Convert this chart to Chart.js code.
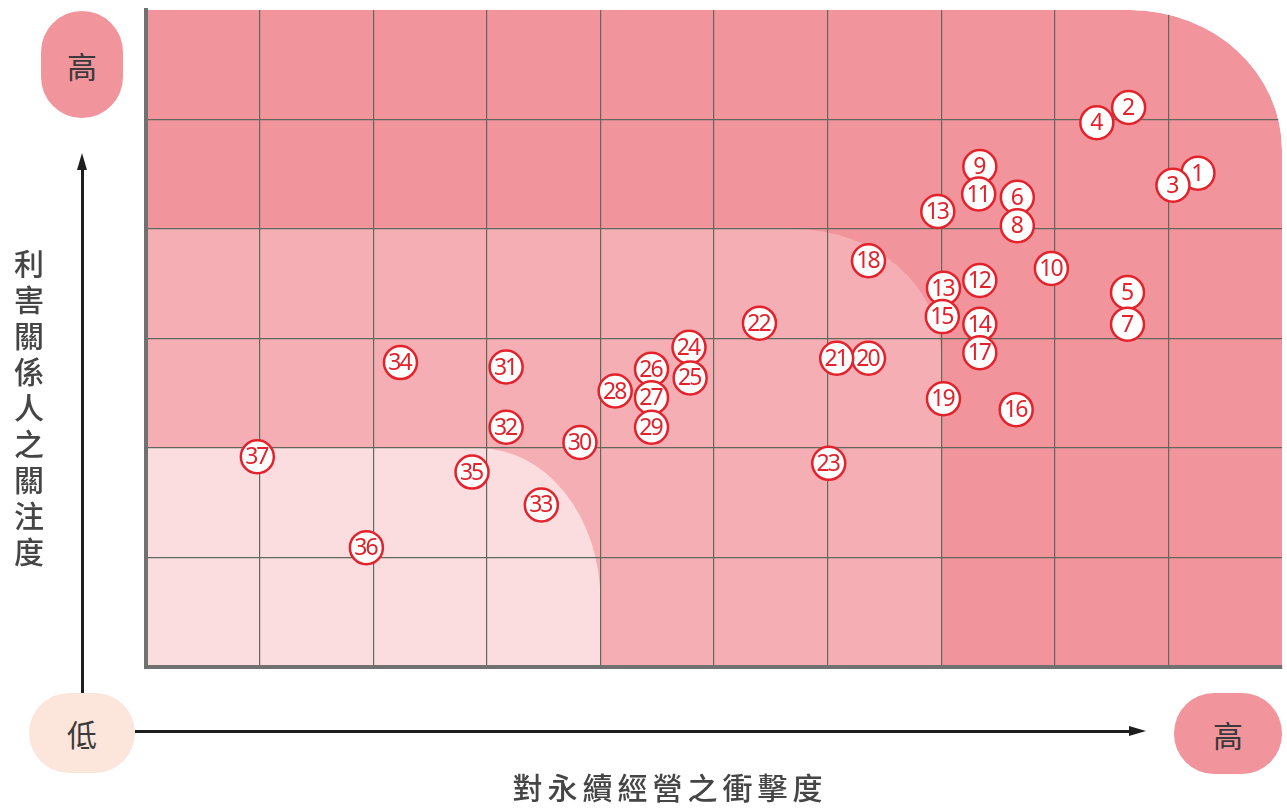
<!DOCTYPE html>
<html>
<head>
<meta charset="utf-8">
<script src="https://cdn.jsdelivr.net/npm/chart.js@4/dist/chart.umd.min.js"></script>
<style>
  html, body { margin: 0; padding: 0; background: #fff; }
  #wrap { position: relative; width: 1287px; height: 810px; overflow: hidden;
    font-family: "Noto Sans CJK TC", "Noto Sans", sans-serif; color: #404040; }
  #chart { position: absolute; left: 0; top: 0; }
  .pill { position: absolute; display: flex; align-items: center; justify-content: center;
    font-size: 30px; color: #3a3a3a; }
  .ytitle { position: absolute; left: 12px; top: 244px; width: 34px; font-size: 30px; font-weight: 500;
    line-height: 36px; text-align: center; color: #454545; }
  .xtitle { position: absolute; left: 470px; top: 764px; width: 400px; text-align: center; font-size: 30px;
    font-weight: 500; letter-spacing: 5px; color: #454545; }
  .line { position: absolute; background: #1e1e1e; }
  .tri { position: absolute; width: 0; height: 0; }
</style>
</head>
<body>
<div id="wrap">
  <canvas id="chart" width="1287" height="810"></canvas>

  <div class="pill" style="left:41px;top:11px;width:82px;height:107px;border-radius:41px;background:#f2949b;">高</div>
  <div class="line" style="left:81px;top:168px;width:3px;height:527px;"></div>
  <div class="tri" style="left:77px;top:153px;border-left:5px solid transparent;border-right:5px solid transparent;border-bottom:17px solid #1e1e1e;"></div>
  <div class="ytitle">利<br>害<br>關<br>係<br>人<br>之<br>關<br>注<br>度</div>

  <div class="pill" style="left:29px;top:693px;width:106px;height:80px;border-radius:40px;background:#fce5db;">低</div>
  <div class="line" style="left:135px;top:730px;width:996px;height:3px;"></div>
  <div class="tri" style="left:1129px;top:726px;border-top:5px solid transparent;border-bottom:5px solid transparent;border-left:17px solid #1e1e1e;"></div>
  <div class="pill" style="left:1174px;top:693px;width:108px;height:81px;border-radius:40px;background:#f2949b;">高</div>

  <div class="xtitle">對永續經營之衝擊度</div>
</div>

<script>
// 議題編號與座標（x：對永續經營之衝擊度，y：利害關係人之關注度）
const issueNo = ["1", "2", "3", "4", "5", "6", "7", "8", "9", "10",
  "11", "12", "13", "13", "14", "15", "16", "17", "18", "19",
  "20", "21", "22", "23", "24", "25", "26", "27", "28", "29",
  "30", "31", "32", "33", "34", "35", "36", "37"];
const impact = [9.26, 8.65, 9.04, 8.37, 8.64, 7.67, 8.64, 7.67, 7.34, 7.97,
  7.33, 7.34, 6.97, 7.02, 7.34, 7.01, 7.66, 7.34, 6.36, 7.02,
  6.36, 6.08, 5.40, 6.01, 4.78, 4.79, 4.45, 4.45, 4.13, 4.45,
  3.82, 3.17, 3.17, 3.48, 2.24, 2.87, 1.94, 0.98];
const concern = [4.51, 5.11, 4.40, 4.97, 3.42, 4.29, 3.13, 4.03, 4.57, 3.64,
  4.32, 3.53, 4.16, 3.46, 3.13, 3.20, 2.35, 2.87, 3.71, 2.45,
  2.82, 2.82, 3.14, 1.86, 2.92, 2.64, 2.72, 2.46, 2.52, 2.19,
  2.05, 2.74, 2.19, 1.48, 2.78, 1.78, 1.09, 1.92];

const xMax = 10;
const yMax = 6;

// 背景區塊（資料座標範圍 + 右上圓角）
const zones = [
  { x: 10, y: 6, rx: 152, ry: 140, color: "#f2949b" },
  { x: 7, y: 4, rx: 147, ry: 128, color: "#f5aeb3" },
  { x: 4, y: 2, rx: 122, ry: 152, color: "#fbdde0" },
];

function cornerPath(c, left, top, right, bottom, rx, ry) {
  c.beginPath();
  c.moveTo(left, bottom);
  c.lineTo(left, top);
  c.lineTo(right - rx, top);
  c.ellipse(right - rx, top + ry, rx, ry, 0, -Math.PI / 2, 0);
  c.lineTo(right, bottom);
  c.closePath();
}

const zonePlugin = {
  id: "zones",
  beforeDraw(chart) {
    const c = chart.ctx;
    const xs = chart.scales.x, ys = chart.scales.y;
    c.save();
    zones.forEach(z => {
      cornerPath(c, xs.getPixelForValue(0), ys.getPixelForValue(z.y),
        xs.getPixelForValue(z.x), ys.getPixelForValue(0), z.rx, z.ry);
      c.fillStyle = z.color;
      c.fill();
    });
    c.restore();
  },
  beforeDatasetsDraw(chart) {
    // 遮掉外框右上圓角外的格線
    const c = chart.ctx;
    const xs = chart.scales.x, ys = chart.scales.y;
    const z = zones[0];
    const right = xs.getPixelForValue(xMax), top = ys.getPixelForValue(yMax);
    c.save();
    c.beginPath();
    c.moveTo(right + 6, top - 6);
    c.lineTo(right - z.rx, top - 6);
    c.lineTo(right - z.rx, top);
    c.ellipse(right - z.rx, top + z.ry, z.rx, z.ry, 0, -Math.PI / 2, 0);
    c.lineTo(right + 6, top + z.ry);
    c.closePath();
    c.fillStyle = "#fff";
    c.fill();
    c.restore();
  },
  afterDatasetsDraw(chart) {
    const c = chart.ctx;
    const meta = chart.getDatasetMeta(0);
    c.save();
    c.fillStyle = "#e3222b";
    c.textAlign = "center";
    c.textBaseline = "middle";
    meta.data.forEach((pt, i) => {
      const t = issueNo[i];
      c.font = "23px 'Noto Sans', sans-serif";
      c.letterSpacing = t.length > 1 ? "-2px" : "0px";
      c.fillText(t, pt.x + (t.length > 1 ? -1 : 0), pt.y + 1);
    });
    c.restore();
  },
};

const gridColor = "#62695c";

// 讓座標軸不佔空間，繪圖區完全由 padding 決定
function noSpace(scale) {
  if (scale.isHorizontal()) scale.height = 0;
  else scale.width = 0;
}

new Chart(document.getElementById("chart"), {
  type: "scatter",
  data: {
    datasets: [{
      data: impact.map((v, i) => ({ x: v, y: concern[i] })),
      pointRadius: 16.5,
      pointHoverRadius: 16.5,
      pointBackgroundColor: "#ffffff",
      pointBorderColor: "#e3222b",
      pointBorderWidth: 2.5,
      clip: false,
    }],
  },
  options: {
    responsive: false,
    animation: false,
    events: [],
    layout: { autoPadding: false, padding: { left: 146, right: 5, top: 10, bottom: 143 } },
    plugins: { legend: { display: false }, tooltip: { enabled: false } },
    scales: {
      x: {
        type: "linear", min: 0, max: xMax,
        ticks: { display: false, stepSize: 1 },
        grid: {
          drawTicks: false, lineWidth: 1.2,
          color: ctx => (ctx.tick.value === 0 || ctx.tick.value === xMax) ? "rgba(0,0,0,0)" : gridColor,
        },
        border: { display: true, color: "#717171", width: 4 },
        afterFit: noSpace,
      },
      y: {
        type: "linear", min: 0, max: yMax,
        ticks: { display: false, stepSize: 1 },
        grid: {
          drawTicks: false, lineWidth: 1.2,
          color: ctx => (ctx.tick.value === 0 || ctx.tick.value === yMax) ? "rgba(0,0,0,0)" : gridColor,
        },
        border: { display: true, color: "#717171", width: 4 },
        afterFit: noSpace,
      },
    },
  },
  plugins: [zonePlugin],
});
</script>
</body>
</html>
